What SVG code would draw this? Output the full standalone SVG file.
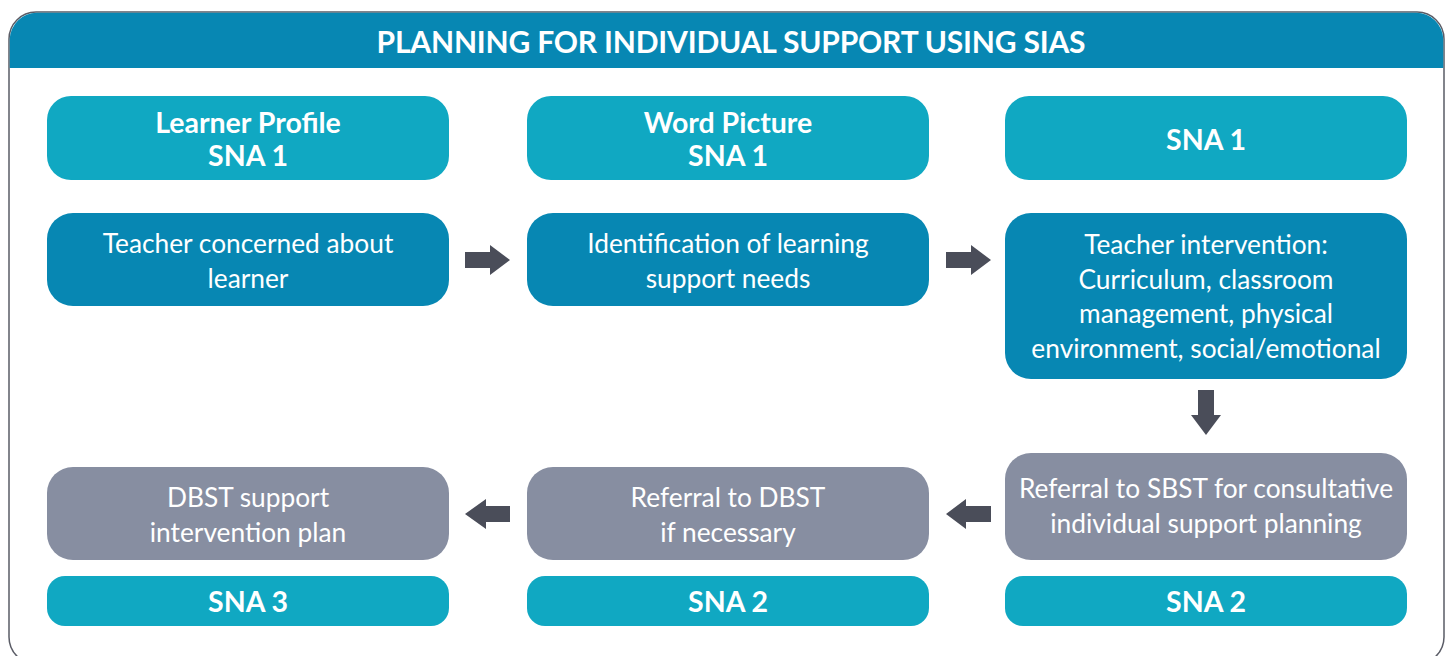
<svg xmlns="http://www.w3.org/2000/svg" width="1448" height="656" viewBox="0 0 1448 656">
  <style>
    .frame { fill: #ffffff; stroke: #5a5c66; stroke-width: 1.5; }
    .band { fill: #0787b3; }
    .stage { fill: #10a8c2; }
    .step { fill: #0787b3; }
    .team { fill: #878ea1; }
    .title { font-family: Lato, "Open Sans", sans-serif; font-weight: 700; font-size: 30px; fill: #ffffff; text-anchor: middle; }
    .bold { font-family: Lato, "Open Sans", sans-serif; font-weight: 700; font-size: 28.5px; fill: #ffffff; text-anchor: middle; }
    .label { font-family: Lato, "Open Sans", sans-serif; font-weight: 400; font-size: 26.3px; fill: #ffffff; text-anchor: middle; }
    .arrow { fill: #4a4d59; }
  </style>

  <!-- outer panel with header band -->
  <g id="panel">
    <rect class="frame" x="9" y="12" width="1435" height="652" rx="27" ry="27"/>
    <path class="band" d="M9.75 68 V39 A27 27 0 0 1 36.75 12.75 H1416.25 A27 27 0 0 1 1443.25 39 V68 Z"/>
    <text class="title" x="731" y="53" textLength="709">PLANNING FOR INDIVIDUAL SUPPORT USING SIAS</text>
  </g>

  <!-- top row: tool labels -->
  <g id="learner-profile">
    <rect class="stage" x="47" y="96" width="402" height="84" rx="24"/>
    <text class="bold" x="248" y="133">Learner Profile</text>
    <text class="bold" x="248" y="166">SNA 1</text>
  </g>
  <g id="word-picture">
    <rect class="stage" x="527" y="96" width="402" height="84" rx="24"/>
    <text class="bold" x="728" y="133">Word Picture</text>
    <text class="bold" x="728" y="166">SNA 1</text>
  </g>
  <g id="sna1-top">
    <rect class="stage" x="1005" y="96" width="402" height="84" rx="24"/>
    <text class="bold" x="1206" y="150">SNA 1</text>
  </g>

  <!-- second row: teacher-level steps -->
  <g id="teacher-concerned">
    <rect class="step" x="47" y="213" width="402" height="93" rx="26"/>
    <text class="label" x="248" y="253">Teacher concerned about</text>
    <text class="label" x="248" y="288">learner</text>
  </g>
  <g id="identification">
    <rect class="step" x="527" y="213" width="402" height="93" rx="26"/>
    <text class="label" x="728" y="253">Identification of learning</text>
    <text class="label" x="728" y="288">support needs</text>
  </g>
  <g id="teacher-intervention">
    <rect class="step" x="1005" y="213" width="402" height="166" rx="26"/>
    <text class="label" x="1206" y="254">Teacher intervention:</text>
    <text class="label" x="1206" y="289">Curriculum, classroom</text>
    <text class="label" x="1206" y="323">management, physical</text>
    <text class="label" x="1206" y="358">environment, social/emotional</text>
  </g>

  <!-- third row: support team steps -->
  <g id="dbst-plan">
    <rect class="team" x="47" y="467" width="402" height="93" rx="26"/>
    <text class="label" x="248" y="507">DBST support</text>
    <text class="label" x="248" y="542">intervention plan</text>
  </g>
  <g id="referral-dbst">
    <rect class="team" x="527" y="467" width="402" height="93" rx="26"/>
    <text class="label" x="728" y="507">Referral to DBST</text>
    <text class="label" x="728" y="542">if necessary</text>
  </g>
  <g id="referral-sbst">
    <rect class="team" x="1005" y="453" width="402" height="107" rx="26"/>
    <text class="label" x="1206" y="498">Referral to SBST for consultative</text>
    <text class="label" x="1206" y="533">individual support planning</text>
  </g>

  <!-- bottom row: tool labels -->
  <g id="sna3">
    <rect class="stage" x="47" y="576" width="402" height="50" rx="18"/>
    <text class="bold" x="248" y="612">SNA 3</text>
  </g>
  <g id="sna2-left">
    <rect class="stage" x="527" y="576" width="402" height="50" rx="18"/>
    <text class="bold" x="728" y="612">SNA 2</text>
  </g>
  <g id="sna2-right">
    <rect class="stage" x="1005" y="576" width="402" height="50" rx="18"/>
    <text class="bold" x="1206" y="612">SNA 2</text>
  </g>

  <!-- block arrows between steps -->
  <g id="connectors">
    <polygon class="arrow" points="465,252 490,252 490,245 510,260 490,275 490,268 465,268"/>
    <polygon class="arrow" points="946,252 971,252 971,245 991,260 971,275 971,268 946,268"/>
    <polygon class="arrow" points="1198,390 1214,390 1214,415 1221,415 1206,435 1191,415 1198,415"/>
    <polygon class="arrow" points="991,506 966,506 966,499 946,514 966,529 966,522 991,522"/>
    <polygon class="arrow" points="510,506 486,506 486,499 465,514 486,529 486,522 510,522"/>
  </g>
</svg>
